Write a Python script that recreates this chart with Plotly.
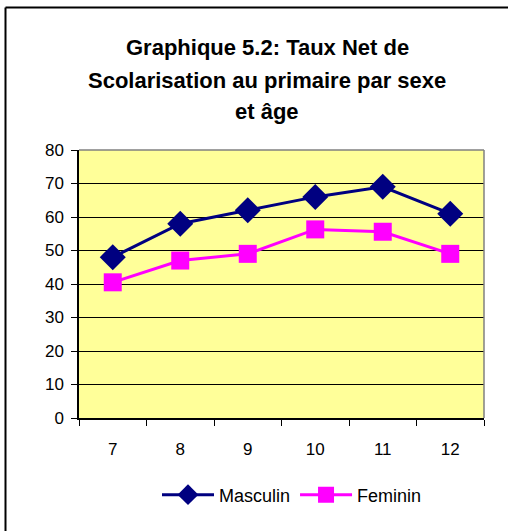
import plotly.graph_objects as go

ages = ["7", "8", "9", "10", "11", "12"]
masculin = [48, 58, 62, 66, 69, 61]
feminin = [40.5, 47, 49, 56.3, 55.6, 49]
y_ticks = [0, 10, 20, 30, 40, 50, 60, 70, 80]
title_lines = ["Graphique 5.2: Taux Net de", "Scolarisation au primaire par sexe", "et âge"]

L, R, T, B = 79, 24, 150, 113
W, H = 508, 531
pw, ph = W - L - R, H - T - B

def px(x):
    return (x - L) / pw

def py(y):
    return (H - B - y) / ph

fig = go.Figure()
fig.add_trace(go.Scatter(x=ages, y=masculin, name="Masculin", mode="lines+markers",
                         line=dict(color="#000080", width=3),
                         marker=dict(symbol="diamond", size=20, color="#000080")))
fig.add_trace(go.Scatter(x=ages, y=feminin, name="Feminin", mode="lines+markers",
                         line=dict(color="#FF00FF", width=3),
                         marker=dict(symbol="square", size=18, color="#FF00FF")))

font = "Liberation Sans, Arial, sans-serif"
for line, yy in zip(title_lines, [47, 80, 112]):
    fig.add_annotation(text="<b>" + line + "</b>", xref="paper", yref="paper", x=px(267), y=py(yy),
                       xanchor="center", yanchor="middle", showarrow=False,
                       font=dict(family=font, size=22, color="black"))

shapes = [
    dict(type="line", xref="paper", yref="paper", x0=px(5.5), x1=px(520), y0=py(7.5), y1=py(7.5),
         line=dict(color="black", width=2)),
    dict(type="line", xref="paper", yref="paper", x0=px(5.5), x1=px(5.5), y0=py(7.5), y1=py(540),
         line=dict(color="black", width=2)),
    dict(type="line", xref="paper", yref="paper", x0=0, x1=1, y0=1, y1=1,
         line=dict(color="#808080", width=1.5)),
    dict(type="line", xref="paper", yref="paper", x0=1, x1=1, y0=0, y1=1,
         line=dict(color="#808080", width=1.5)),
]

fig.update_layout(
    width=W, height=H,
    margin=dict(l=L, r=R, t=T, b=B),
    paper_bgcolor="white",
    plot_bgcolor="#FFFF99",
    font=dict(family=font, size=17, color="black"),
    showlegend=True,
    legend=dict(orientation="h", x=px(292), y=py(495), xanchor="center", yanchor="middle",
                font=dict(size=18), bgcolor="rgba(0,0,0,0)", itemwidth=52),
    shapes=shapes,
    xaxis=dict(type="category", range=[-0.5, 5.5], tickson="boundaries", ticks="outside",
               ticklen=6, tickcolor="black", showline=True, linecolor="black", linewidth=1.5,
               showgrid=False, zeroline=False, ticklabelstandoff=15, fixedrange=True),
    yaxis=dict(range=[0, 80], tickvals=y_ticks, ticks="outside", ticklen=6, tickcolor="black",
               showline=True, linecolor="black", linewidth=1.5, gridcolor="black", gridwidth=1,
               zeroline=False, ticklabelstandoff=4, fixedrange=True),
)

fig.write_html("out.html", config={"displayModeBar": False},
               post_script="document.body.style.margin='0';")
